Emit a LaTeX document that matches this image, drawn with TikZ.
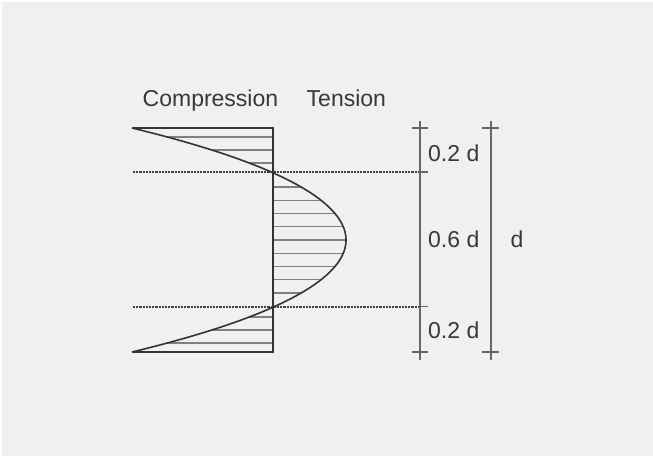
\documentclass[tikz,border=0pt]{standalone}
\usepackage{fontspec}
\setmainfont{Liberation Sans}
\begin{document}
\begin{tikzpicture}[x=1pt,y=-1pt,
  declare function={f(\y)=73-785.9*((\y-240)/224)^2-280*((\y-240)/224)^4;},
  mainline/.style={draw=black!80,line width=1.6pt},
  hatch/.style={draw=black!50,line width=1.1pt},
  dimline/.style={draw=black!60,line width=1.1pt},
  dotline/.style={draw=black!75,line width=2pt,dash pattern=on 2.2pt off 1pt},
  lbl/.style={inner sep=0pt,anchor=base west,text=black!78,font=\fontsize{23}{27}\selectfont}]
\useasboundingbox (0,0) rectangle (653,456);
\fill[white] (0,0) rectangle (653,456);
\fill[black!6] (1.5,1.5) rectangle (653,456);
% hatching
\foreach \yy in {137,150,163,317,330,343,187,200.25,213.5,226.75,240,253.25,266.5,279.75,293}
  \draw[hatch] ({273+f(\yy)},\yy) -- (273,\yy);
% named points
\coordinate (tl) at (133,128);
\coordinate (bl) at (133,352);
\coordinate (tr) at (273,128);
\coordinate (br) at (273,352);
\coordinate (d1l) at (133,172);
\coordinate (d2l) at (133,306.5);
\coordinate (d1r) at (420,172);
\coordinate (d2r) at (420,306.5);
\coordinate (A0) at (420,121);
\coordinate (A1) at (420,360);
\coordinate (B0) at (491,121);
\coordinate (B1) at (491,360);
\coordinate (t1a) at (412,128); \coordinate (t1b) at (428,128);
\coordinate (t2b) at (428,172);
\coordinate (t3b) at (428,306.5);
\coordinate (t4a) at (412,352); \coordinate (t4b) at (428,352);
\coordinate (u1a) at (482,128); \coordinate (u1b) at (499,128);
\coordinate (u4a) at (482,352); \coordinate (u4b) at (499,352);
% dotted lines
\draw[dotline] (d1l) -- (d1r);
\draw[dotline] (d2l) -- (d2r);
% rectangle frame
\draw[mainline] (tl) -- (tr) -- (br) -- (bl);
% curve
\draw[mainline,line join=round] plot[domain=128:352,samples=120,variable=\y] ({273+f(\y)},\y);
% dimension lines
\draw[dimline] (A0) -- (A1);
\draw[dimline] (B0) -- (B1);
\draw[dimline] (t1a) -- (t1b);
\draw[dimline] (t4a) -- (t4b);
\draw[dimline] (d1r) -- (t2b);
\draw[dimline] (d2r) -- (t3b);
\draw[dimline] (u1a) -- (u1b);
\draw[dimline] (u4a) -- (u4b);
% labels
\node[lbl] (comp) at (142.5,106) {Compression};
\node[lbl] (tens) at (306.5,106) {Tension};
\node[lbl] (l1) at (428,161.5) {0.2 d};
\node[lbl] (l2) at (428,247.5) {0.6 d};
\node[lbl] (l3) at (428,338.5) {0.2 d};
\node[lbl] (ld) at (510.5,247.5) {d};
\end{tikzpicture}
\end{document}
